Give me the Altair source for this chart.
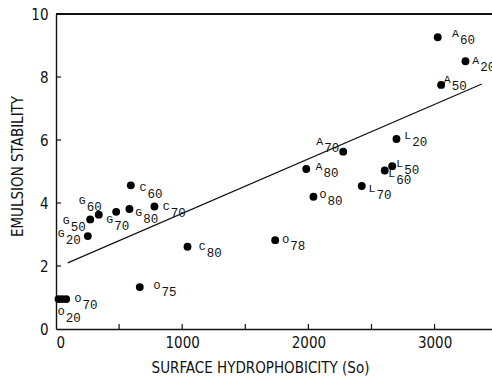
import altair as alt
import pandas as pd

# dots
surface = [3025, 3245, 3052, 2276, 1983, 2698, 2664, 2605, 2423, 2040, 1737,
           593, 780, 1042, 252, 271, 339, 477, 582, 664, 20, 49, 81]
stability = [9.26, 8.50, 7.75, 5.63, 5.08, 6.03, 5.17, 5.03, 4.54, 4.20, 2.82,
             4.56, 3.89, 2.61, 2.95, 3.48, 3.63, 3.72, 3.81, 1.33, 0.95, 0.95, 0.95]

# labels
label_letter = ["A", "A", "A", "A", "A", "L", "L", "L", "L", "O", "O",
                "C", "C", "C", "G", "G", "G", "G", "G", "O", "O", "O"]
label_sub = ["60", "20", "50", "70", "80", "20", "50", "60", "70", "80", "78",
             "60", "70", "80", "20", "50", "60", "70", "80", "75", "70", "20"]
label_x = [3139, 3298, 3073, 2062, 2056, 2759, 2696, 2632, 2476, 2088, 1792,
           662, 846, 1132, 14, 54, 181, 398, 628, 773, 147, 14]
label_y = [9.28, 8.41, 7.80, 5.84, 5.05, 6.02, 5.15, 4.83, 4.36, 4.15, 2.72,
           4.38, 3.78, 2.51, 2.91, 3.33, 3.97, 3.36, 3.59, 1.26, 0.87, 0.44]

# regression line endpoints
reg_x = [93, 3374]
reg_y = [2.10, 7.78]

x_ticks = [500, 1000, 1500, 2000, 2500, 3000]
y_ticks = [2, 4, 6, 8]
x_labels = [0, 1000, 2000, 3000]
y_labels = [0, 2, 4, 6, 8, 10]

W, H = 436, 315
XMAX = 3455

pts = pd.DataFrame({"x": surface, "y": stability})
labs = pd.DataFrame({"letter": label_letter, "sub": label_sub, "x": label_x, "y": label_y})
reg = pd.DataFrame({"x": reg_x, "y": reg_y})
xt = pd.DataFrame({"x": x_ticks})
yt = pd.DataFrame({"y": y_ticks})

tick_font = "DejaVu Sans Condensed, Liberation Sans, sans-serif"

xs = alt.Scale(domain=[0, XMAX], nice=False, zero=False)
ys = alt.Scale(domain=[0, 10], nice=False, zero=False)

xenc = alt.X("x:Q", scale=xs, axis=alt.Axis(
    values=x_labels, format="d", title="SURFACE HYDROPHOBICITY (So)", grid=False,
    tickSize=0, labelPadding=6, domainColor="#111", domainWidth=1.4,
    labelFont=tick_font, labelFontSize=15, labelColor="#111",
    titleFont=tick_font, titleFontSize=15, titleFontWeight="normal", titleColor="#111",
    titleX=204, titleY=38, titleAlign="center", titleBaseline="middle"))
yenc = alt.Y("y:Q", scale=ys, axis=alt.Axis(
    values=y_labels, format="d", title="EMULSION STABILITY", grid=False,
    tickSize=0, labelPadding=8, domainColor="#111", domainWidth=1.4,
    labelFont=tick_font, labelFontSize=15, labelColor="#111",
    titleFont=tick_font, titleFontSize=15, titleFontWeight="normal", titleColor="#111",
    titleX=-39, titleY=152, titleAlign="center", titleBaseline="middle", titleAngle=-90))

dots = alt.Chart(pts).mark_point(filled=True, size=62, color="#000", opacity=1).encode(x=xenc, y=yenc)
line = alt.Chart(reg).mark_line(color="#111", strokeWidth=1.2).encode(x="x:Q", y="y:Q")
letters = alt.Chart(labs).mark_text(align="left", baseline="alphabetic", font="Liberation Mono",
                                    fontSize=11.5, color="#111").encode(x="x:Q", y="y:Q", text="letter:N")
subs = alt.Chart(labs).mark_text(align="left", baseline="alphabetic", font="Liberation Mono",
                                 fontSize=12.5, color="#111", dx=8, dy=7).encode(x="x:Q", y="y:Q", text="sub:N")
xtick = alt.Chart(xt).mark_rule(color="#111", strokeWidth=1.2).encode(
    x="x:Q", y=alt.value(H), y2=alt.value(H - 5))
ytick = alt.Chart(yt).mark_rule(color="#111", strokeWidth=1.2).encode(
    y="y:Q", x=alt.value(0), x2=alt.value(5))
top = alt.Chart(pts).mark_rule(color="#111", strokeWidth=1.4).encode(
    x=alt.value(0), x2=alt.value(W), y=alt.value(0))

chart = alt.layer(dots, line, letters, subs, xtick, ytick, top).properties(
    width=W, height=H,
    autosize=alt.AutoSizeParams(type="none"),
    padding={"left": 56, "top": 14, "right": 0, "bottom": 47},
    background="white",
).configure_view(stroke=None)

chart.save("out.html", embed_options={"renderer": "svg", "actions": False})
